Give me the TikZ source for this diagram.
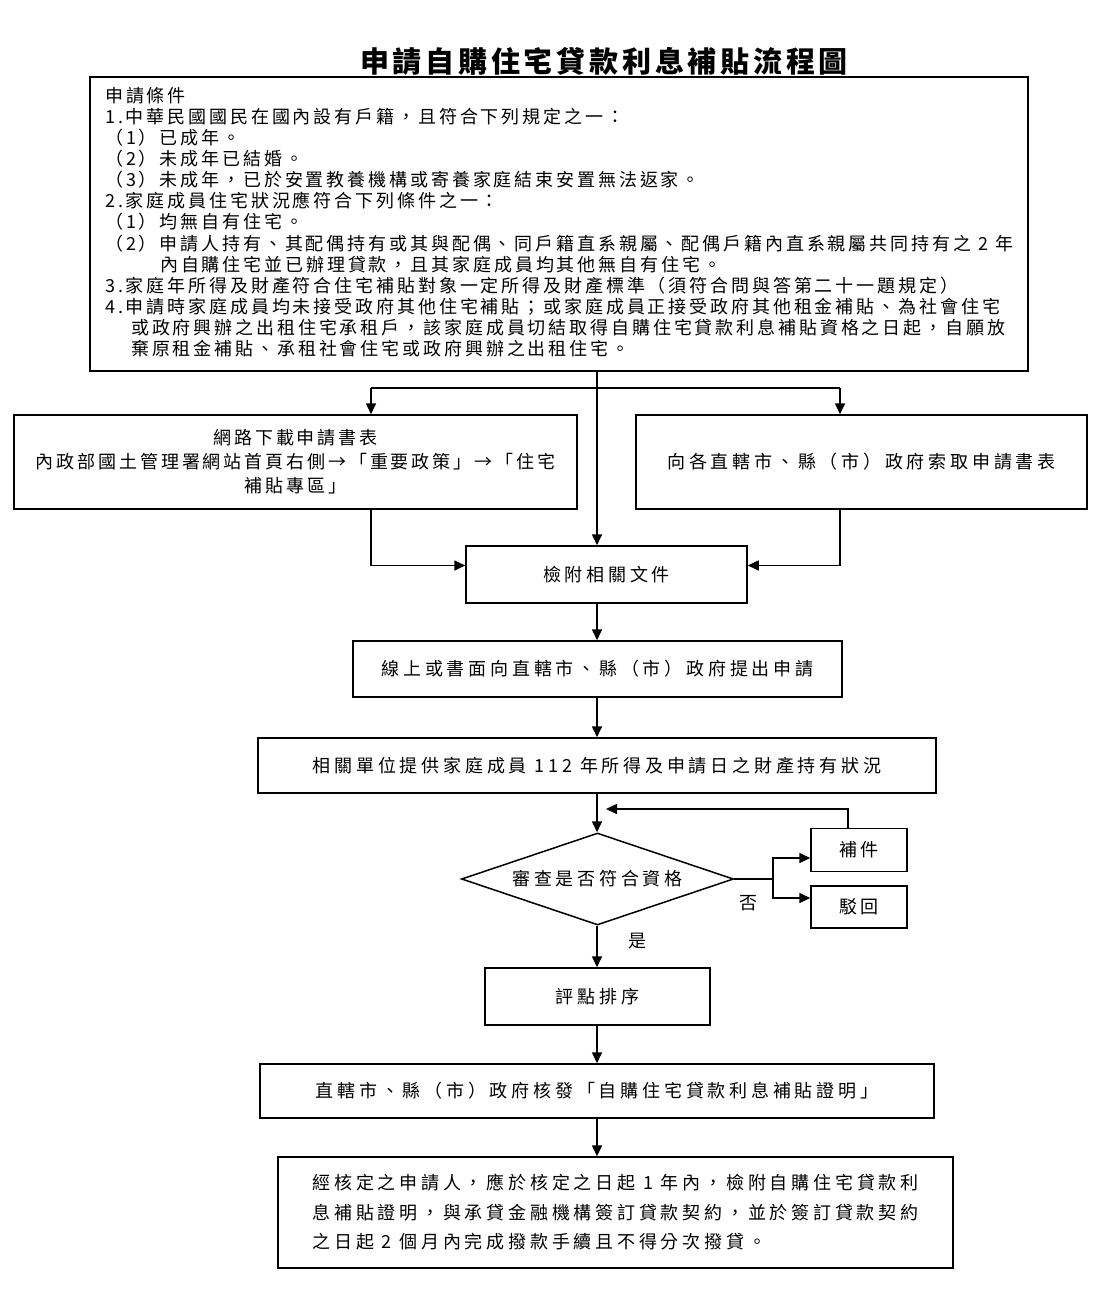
\documentclass[tikz,border=0pt]{standalone}
\usepackage{fontspec}
\usetikzlibrary{arrows.meta,shapes.geometric,calc}
\newfontfamily\cjka{Noto Sans CJK TC}[LetterSpace=16]
\newfontfamily\cjkb{Noto Sans CJK TC}[LetterSpace=21]
\newfontfamily\cjkt{Noto Sans CJK TC}[LetterSpace=13]
\begin{document}
\begin{tikzpicture}[x=1pt,y=-1pt,
  box/.style={draw,line width=1.5pt,inner sep=0pt,align=center,font=\cjkb\fontsize{18}{22}\selectfont},
  arr/.style={-{Triangle[length=11pt,width=10pt]},line width=1.6pt},
  ln/.style={line width=1.6pt},
  lbl/.style={inner sep=0pt,font=\cjkb\fontsize{18}{22}\selectfont}]
\fill[white] (0,0) rectangle (1116,1303);
\useasboundingbox (0,0) rectangle (1116,1303);
\coordinate (mx) at (597,0);
\coordinate (rx) at (848,0);

\node[inner sep=0pt,font=\cjkt\bfseries\fontsize{29}{32}\selectfont] (title) at (604,61) {申請自購住宅貸款利息補貼流程圖};

\node[box,minimum width=938pt,minimum height=294pt] (cond) at (559,224) {};
\node[anchor=north west,inner sep=0pt,align=left,font=\cjka\fontsize{18}{21.1}\selectfont] (condtext) at (105,87) {申請條件\\
1.中華民國國民在國內設有戶籍，且符合下列規定之一：\\
（1）已成年。\\
（2）未成年已結婚。\\
（3）未成年，已於安置教養機構或寄養家庭結束安置無法返家。\\
2.家庭成員住宅狀況應符合下列條件之一：\\
（1）均無自有住宅。\\
（2）申請人持有、其配偶持有或其與配偶、同戶籍直系親屬、配偶戶籍內直系親屬共同持有之 2 年\\
\hspace*{55pt}內自購住宅並已辦理貸款，且其家庭成員均其他無自有住宅。\\
3.家庭年所得及財產符合住宅補貼對象一定所得及財產標準（須符合問與答第二十一題規定）\\
4.申請時家庭成員均未接受政府其他住宅補貼；或家庭成員正接受政府其他租金補貼、為社會住宅\\
\hspace*{26pt}或政府興辦之出租住宅承租戶，該家庭成員切結取得自購住宅貸款利息補貼資格之日起，自願放\\
\hspace*{26pt}棄原租金補貼、承租社會住宅或政府興辦之出租住宅。};

\node[box,minimum width=563pt,minimum height=94pt,font=\cjka\fontsize{18}{24}\selectfont] (dl) at (295.5,462) {網路下載申請書表\\內政部國土管理署網站首頁右側→「重要政策」→「住宅\\補貼專區」};
\node[box,minimum width=451pt,minimum height=94pt] (dr) at (861.5,462) {向各直轄市、縣（市）政府索取申請書表};

\node[box,minimum width=281pt,minimum height=57pt] (chk) at (606.5,574.5) {檢附相關文件};
\node[box,minimum width=489pt,minimum height=56pt] (onl) at (597.5,669) {線上或書面向直轄市、縣（市）政府提出申請};
\node[box,minimum width=678pt,minimum height=55pt] (rel) at (597,765.5) {相關單位提供家庭成員 112 年所得及申請日之財產持有狀況};
\node[draw,diamond,line width=1.5pt,minimum width=272pt,minimum height=92pt,inner sep=0pt,aspect=2.95,font=\cjkb\fontsize{18}{22}\selectfont] (rev) at (597.5,879) {審查是否符合資格};
\node[box,minimum width=96pt,minimum height=43pt] (bj) at (859,850) {補件};
\node[box,minimum width=96pt,minimum height=42pt] (bh) at (859,907) {駁回};
\node[lbl] (no) at (748,903) {否};
\node[lbl] (yes) at (637,941) {是};
\node[box,minimum width=225pt,minimum height=57pt] (pd) at (597.5,996.5) {評點排序};
\node[box,minimum width=674pt,minimum height=54pt] (cert) at (597,1091) {直轄市、縣（市）政府核發「自購住宅貸款利息補貼證明」};
\node[box,minimum width=675pt,minimum height=111pt,align=left,font=\cjkb\fontsize{18}{29.5}\selectfont] (fin) at (615.5,1212.5) {經核定之申請人，應於核定之日起 1 年內，檢附自購住宅貸款利\\息補貼證明，與承貸金融機構簽訂貸款契約，並於簽訂貸款契約\\之日起 2 個月內完成撥款手續且不得分次撥貸。};

\coordinate (lt) at (371,388);
\coordinate (rt) at (840,388);
\coordinate (br) at (773,879);
\coordinate (ret) at (606,809);

\draw[arr] (cond.south -| mx) -- (chk.north -| mx);
\draw[ln] (lt) -- (rt);
\draw[arr] (lt) -- (lt |- dl.north);
\draw[arr] (rt) -- (rt |- dr.north);
\draw[arr] (lt |- dl.south) |- ([yshift=9pt]chk.west);
\draw[arr] (rt |- dr.south) |- ([yshift=9pt]chk.east);
\draw[arr] (chk.south -| mx) -- (onl.north -| mx);
\draw[arr] (onl.south -| mx) -- (rel.north -| mx);
\draw[arr] (rel.south -| mx) -- (rev.north -| mx);
\draw[ln] (rev.east) -- (br);
\draw[arr] (br) |- ([yshift=-8pt]bj.west);
\draw[arr] (br) |- ([yshift=9pt]bh.west);
\draw[arr] (bj.north -| rx) |- (ret);
\draw[arr] (rev.south -| mx) -- (pd.north -| mx);
\draw[arr] (pd.south -| mx) -- (cert.north -| mx);
\draw[arr] (cert.south -| mx) -- (fin.north -| mx);
\end{tikzpicture}
\end{document}
